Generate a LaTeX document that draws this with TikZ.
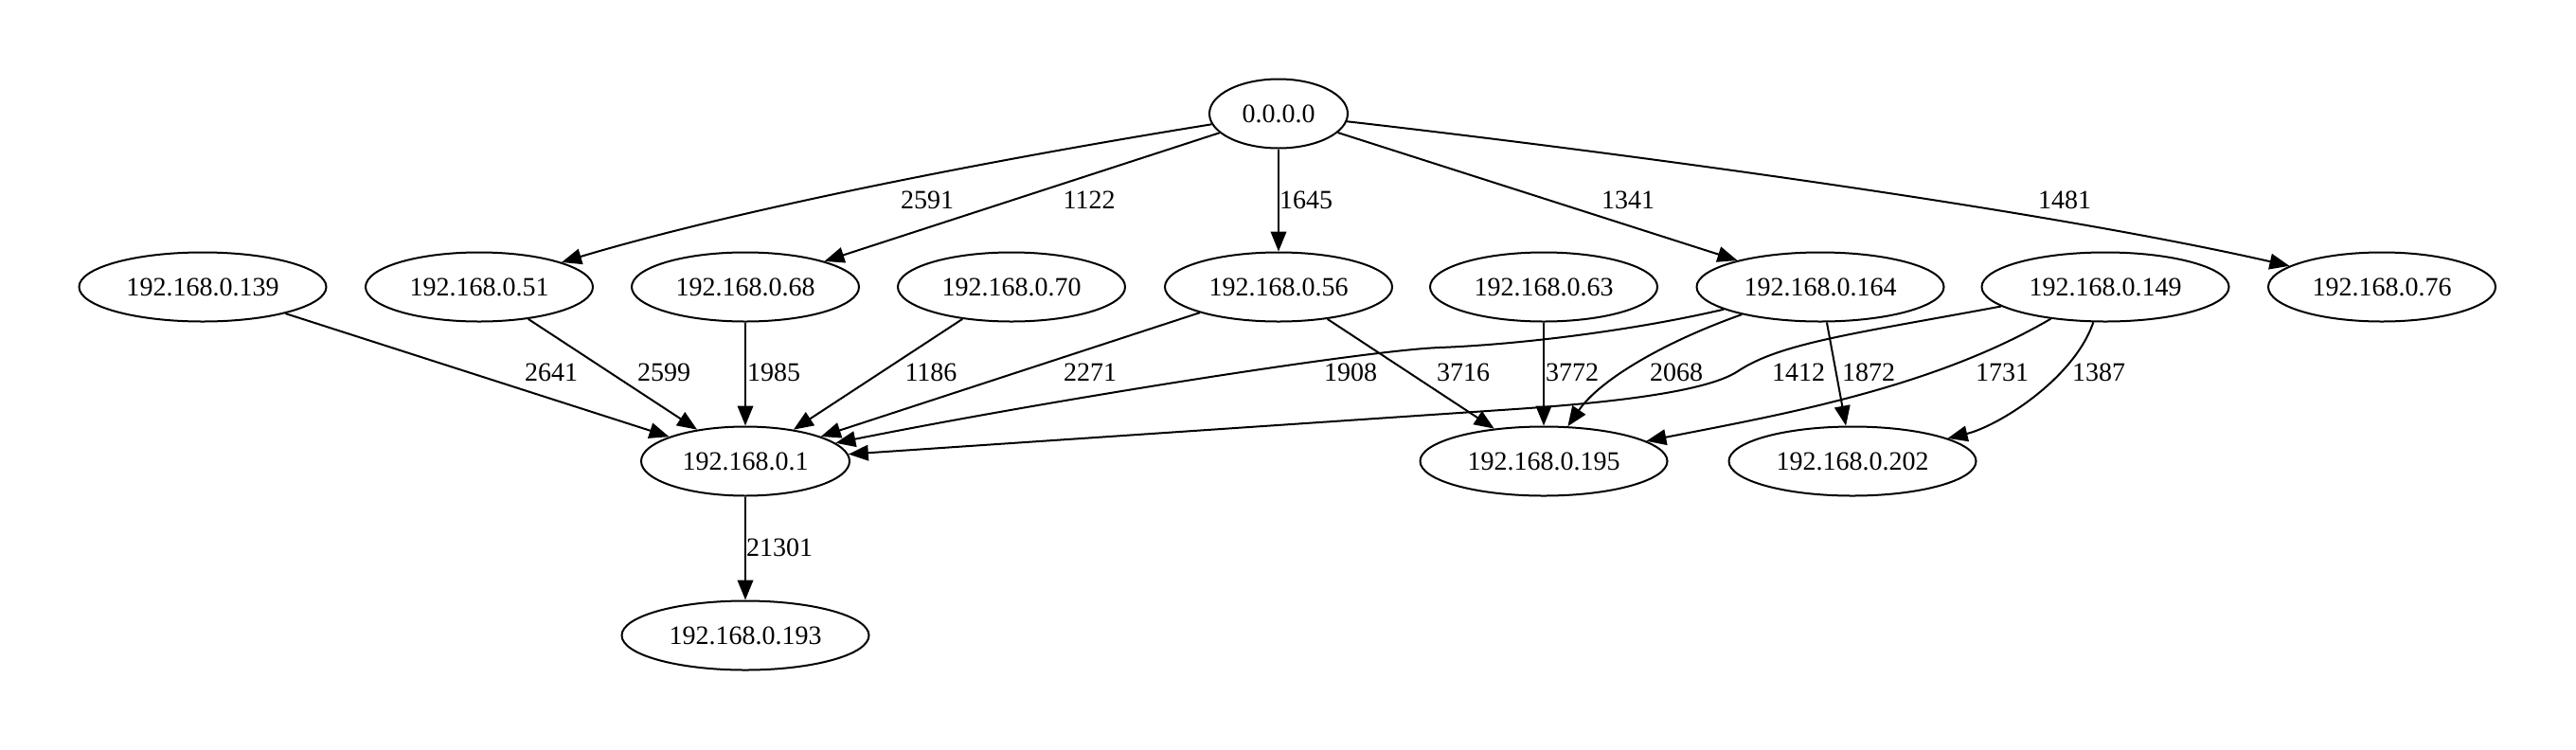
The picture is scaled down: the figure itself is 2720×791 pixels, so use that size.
\documentclass[tikz,border=0pt]{standalone}
\usepackage{fontspec}
\setmainfont{Liberation Serif}
\usepackage{tikz}
\usetikzlibrary{arrows.meta,shapes.geometric}

\tikzset{
  host/.style={draw, ellipse, line width=1bp, inner sep=0pt, minimum height=36.5bp, minimum width=120bp, font=\fontsize{14bp}{16bp}\selectfont},
  hostwide/.style={host, minimum width=130.5bp},
  hostnarrow/.style={host, minimum width=110bp},
  flow/.style={line width=1bp, -{Triangle[length=10.5bp,width=8.3bp]}},
  weight/.style={font=\fontsize{14bp}{16bp}\selectfont, inner sep=0pt}
}

\begin{document}
\begin{tikzpicture}[x=0.5bp, y=-0.5bp]
	\useasboundingbox (0,0) rectangle (2720,791);
	% Hosts
	\node[host, minimum width=73bp] (root) at (1350,120) {0.0.0.0};
	\node[hostwide] (h139) at (214,303) {192.168.0.139};
	\node[host] (h51) at (506,303) {192.168.0.51};
	\node[host] (h68) at (787,303) {192.168.0.68};
	\node[host] (h70) at (1068,303) {192.168.0.70};
	\node[host] (h56) at (1350,303) {192.168.0.56};
	\node[host] (h63) at (1630,303) {192.168.0.63};
	\node[hostwide] (h164) at (1922,303) {192.168.0.164};
	\node[hostwide] (h149) at (2223,303) {192.168.0.149};
	\node[host] (h76) at (2515,303) {192.168.0.76};
	\node[hostnarrow] (h1) at (787,487) {192.168.0.1};
	\node[hostwide] (h195) at (1630,487) {192.168.0.195};
	\node[hostwide] (h202) at (1956,487) {192.168.0.202};
	\node[hostwide] (h193) at (787,671) {192.168.0.193};

	% Out of 0.0.0.0
	\draw[flow] (root) .. controls (1100,160) and (800,215) .. (h51) node[weight] (w2591) at (979,211) {2591};
	\draw[flow] (root) -- (h68) node[weight] (w1122) at (1150,211) {1122};
	\draw[flow] (root) -- (h56) node[weight] (w1645) at (1379,211) {1645};
	\draw[flow] (root) -- (h164) node[weight] (w1341) at (1719,211) {1341};
	\draw[flow] (root) .. controls (1700,160) and (2150,220) .. (h76) node[weight] (w1481) at (2180,211) {1481};

	% Into 192.168.0.1
	\draw[flow] (h139) -- (h1) node[weight] (w2641) at (582,393) {2641};
	\draw[flow] (h51) -- (h1) node[weight] (w2599) at (701,393) {2599};
	\draw[flow] (h68) -- (h1) node[weight] (w1985) at (817,393) {1985};
	\draw[flow] (h70) -- (h1) node[weight] (w1186) at (983,393) {1186};
	\draw[flow] (h56) -- (h1) node[weight] (w2271) at (1151,393) {2271};
	\draw[flow] (h164) .. controls (1720,350) and (1600,364) .. (1520,367) .. controls (1440,370) and (1100,424) .. (h1) node[weight] (w1908) at (1426,393) {1908};
	\draw[flow] (h149) .. controls (1960,352) and (1880,362) .. (1835,392) .. controls (1799,416) and (1680,426.5) .. (1600,432) -- (h1) node[weight] (w1412) at (1899,393) {1412};

	% Into 192.168.0.195
	\draw[flow] (h56) -- (h195) node[weight] (w3716) at (1545,393) {3716};
	\draw[flow] (h63) -- (h195) node[weight] (w3772) at (1660,393) {3772};
	\draw[flow] (h164) .. controls (1760,360) and (1690,400) .. (h195) node[weight] (w2068) at (1770,393) {2068};
	\draw[flow] (h149) .. controls (2040,410) and (1880,438) .. (h195) node[weight] (w1731) at (2114,393) {1731};

	% Into 192.168.0.202
	\draw[flow] (h164) -- (h202) node[weight] (w1872) at (1973,393) {1872};
	\draw[flow] (h149) .. controls (2190,400) and (2110,450) .. (h202) node[weight] (w1387) at (2216,393) {1387};

	% Into 192.168.0.193
	\draw[flow] (h1) -- (h193) node[weight] (w21301) at (823,578) {21301};
\end{tikzpicture}
\end{document}
